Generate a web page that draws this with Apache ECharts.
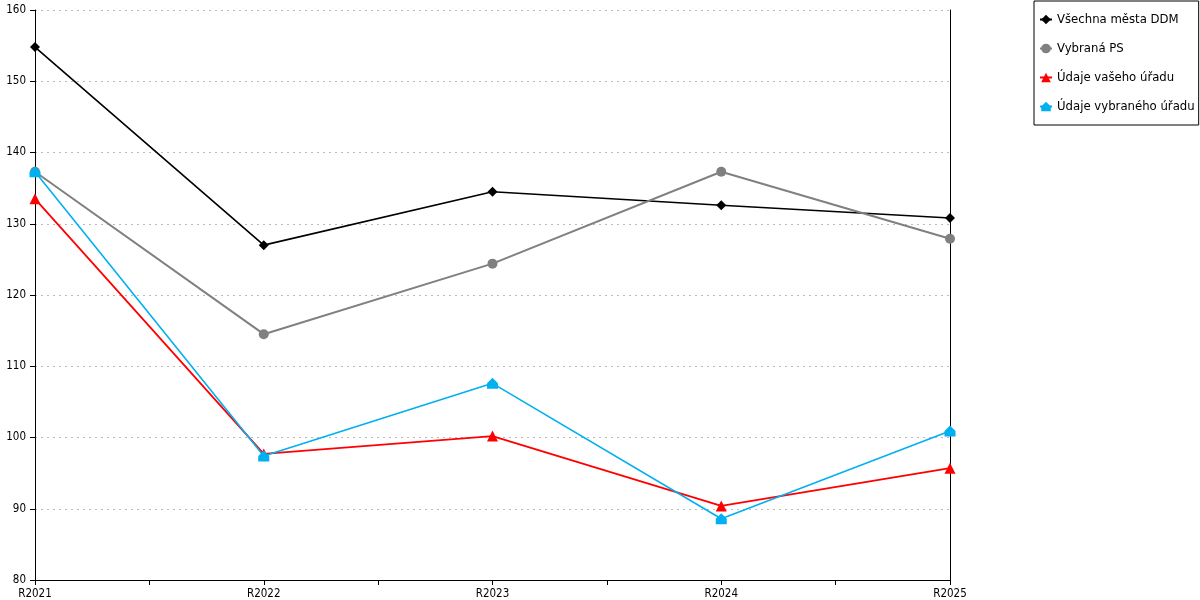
<!DOCTYPE html>
<html><head><meta charset="utf-8">
<script src="https://cdn.jsdelivr.net/npm/echarts@6/dist/echarts.min.js"></script>
<style>html,body{margin:0;padding:0;background:#fff}#c{width:1200px;height:600px}</style>
</head><body><div id="c"></div>
<script>
const categories = ['R2021','R2022','R2023','R2024','R2025'];
const seriesNames = ['Všechna města DDM','Vybraná PS','Údaje vašeho úřadu','Údaje vybraného úřadu'];
const vsechnaMesta = [154.8, 127.0, 134.5, 132.6, 130.8];
const vybranaPS = [137.3, 114.5, 124.4, 137.3, 127.9];
const udajeVaseho = [133.5, 97.7, 100.2, 90.4, 95.7];
const udajeVybraneho = [137.3, 97.4, 107.6, 88.6, 100.9];
const yTicks = [80, 90, 100, 110, 120, 130, 140, 150, 160];

const FONT = "'DejaVu Sans Condensed', 'DejaVu Sans', sans-serif";
const house = 'path://M0,5 L5,0 L10,5 L10,10 L0,10 Z';
const halfTicks = [];
categories.forEach((c, i) => { halfTicks.push(c); if (i < categories.length - 1) halfTicks.push(''); });

const chart = echarts.init(document.getElementById('c'), null, {renderer: 'canvas'});
chart.setOption({
  animation: false,
  backgroundColor: '#fff',
  textStyle: {fontFamily: FONT},
  grid: {left: 35, right: 250, top: 10, bottom: 20, containLabel: false},
  legend: {
    orient: 'vertical', left: 1034, top: 1,
    padding: [12, 4, 12, 5], itemGap: 16, itemWidth: 12, itemHeight: 12,
    borderColor: '#000', borderWidth: 1,
    textStyle: {fontFamily: FONT, fontSize: 13, color: '#000'},
    data: seriesNames
  },
  xAxis: [{
    type: 'category', data: categories, boundaryGap: false,
    axisLine: {lineStyle: {color: '#000', width: 1}},
    axisTick: {show: false},
    axisLabel: {color: '#000', fontSize: 11.5, fontFamily: FONT, margin: 8},
    splitLine: {show: false}
  }, {
    type: 'category', data: halfTicks, boundaryGap: false, position: 'bottom',
    axisLine: {show: false},
    axisTick: {show: true, inside: false, length: 5, lineStyle: {color: '#000'}, interval: 0},
    axisLabel: {show: false}
  }],
  yAxis: [{
    type: 'value', min: 80, max: 160, interval: 10,
    axisLine: {show: true, lineStyle: {color: '#000', width: 1}},
    axisTick: {show: true, length: 5, lineStyle: {color: '#000'}},
    axisLabel: {color: '#000', fontSize: 11.5, fontFamily: FONT, margin: 9,
      formatter: v => yTicks.includes(v) ? String(v) : ''},
    splitLine: {show: true, lineStyle: {color: '#bbbbbb', type: [2, 4], width: 1}}
  }, {
    type: 'value', min: 80, max: 160, interval: 10, position: 'right',
    axisLine: {show: true, lineStyle: {color: '#000', width: 1}},
    axisTick: {show: false}, axisLabel: {show: false}, splitLine: {show: false}
  }],
  series: [
    {name: seriesNames[0], type: 'line', data: vsechnaMesta, symbol: 'diamond', symbolSize: 10,
      itemStyle: {color: '#000'}, lineStyle: {color: '#000', width: 1.6}},
    {name: seriesNames[1], type: 'line', data: vybranaPS, symbol: 'circle', symbolSize: 10,
      itemStyle: {color: '#808080'}, lineStyle: {color: '#808080', width: 2}},
    {name: seriesNames[2], type: 'line', data: udajeVaseho, symbol: 'triangle', symbolSize: 11,
      itemStyle: {color: '#ff0000'}, lineStyle: {color: '#ff0000', width: 1.8}},
    {name: seriesNames[3], type: 'line', data: udajeVybraneho, symbol: house, symbolSize: 11,
      itemStyle: {color: '#00b0f0'}, lineStyle: {color: '#00b0f0', width: 1.6}}
  ]
});
</script></body></html>
